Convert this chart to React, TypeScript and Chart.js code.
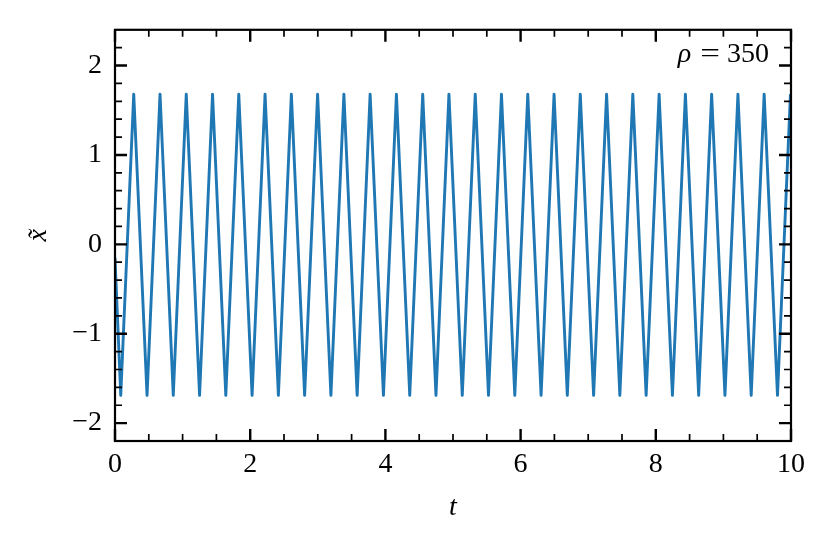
import React, { useEffect, useRef } from 'react';
import { Chart, registerables } from 'chart.js';

Chart.register(...registerables);

// Start of the trajectory
const startT = [0];
const startX = [-0.15];

// Troughs (time, value)
const troughT = [0.085, 0.474, 0.862, 1.251, 1.639, 2.028, 2.417, 2.805, 3.194, 3.582, 3.971, 4.36, 4.748, 5.137, 5.525, 5.914, 6.303, 6.691, 7.08, 7.468, 7.857, 8.246, 8.634, 9.023, 9.411, 9.8];
const troughX = [-1.69, -1.69, -1.69, -1.69, -1.69, -1.69, -1.69, -1.69, -1.69, -1.69, -1.69, -1.69, -1.69, -1.69, -1.69, -1.69, -1.69, -1.69, -1.69, -1.69, -1.69, -1.69, -1.69, -1.69, -1.69, -1.69];

// Peaks (time, value)
const peakT = [0.277, 0.666, 1.054, 1.443, 1.831, 2.22, 2.609, 2.997, 3.386, 3.774, 4.163, 4.552, 4.94, 5.329, 5.717, 6.106, 6.495, 6.883, 7.272, 7.66, 8.049, 8.438, 8.826, 9.215, 9.603, 9.992];
const peakX = [1.68, 1.68, 1.68, 1.68, 1.68, 1.68, 1.68, 1.68, 1.68, 1.68, 1.68, 1.68, 1.68, 1.68, 1.68, 1.68, 1.68, 1.68, 1.68, 1.68, 1.68, 1.68, 1.68, 1.68, 1.68, 1.68];

// Axes
const xMajorTicks = [0, 2, 4, 6, 8, 10];
const xMinorTicks = [0.5, 1, 1.5, 2.5, 3, 3.5, 4.5, 5, 5.5, 6.5, 7, 7.5, 8.5, 9, 9.5];
const yMajorTicks = [-2, -1, 0, 1, 2];
const yMinorTicks = [-2.2, -1.8, -1.6, -1.4, -1.2, -0.8, -0.6, -0.4, -0.2, 0.2, 0.4, 0.6, 0.8, 1.2, 1.4, 1.6, 1.8, 2.2];
const xRange = [0, 10];
const yRange = [-2.2, 2.4];
const annotationParts = ['ρ', '=', '350'];

const SERIF = '"Liberation Serif", "DejaVu Serif", serif';
const TICK_SIZE = 28;

function buildPoints() {
  const pts: { x: number; y: number }[] = [];
  startT.forEach((t, i) => pts.push({ x: t, y: startX[i] }));
  for (let i = 0; i < troughT.length; i++) {
    pts.push({ x: troughT[i], y: troughX[i] });
    if (i < peakT.length) pts.push({ x: peakT[i], y: peakX[i] });
  }
  return pts;
}

const frameTicks = {
  id: 'frameTicks',
  afterDraw(chart: any) {
    const { ctx, chartArea } = chart;
    const { left, right, top, bottom } = chartArea;
    const xs = chart.scales.x;
    const ys = chart.scales.y;
    ctx.save();
    ctx.strokeStyle = '#000';
    ctx.lineCap = 'butt';
    const drawX = (vals: number[], len: number, w: number) => {
      ctx.lineWidth = w;
      ctx.beginPath();
      vals.forEach((v) => {
        const p = xs.getPixelForValue(v);
        ctx.moveTo(p, bottom);
        ctx.lineTo(p, bottom - len);
        ctx.moveTo(p, top);
        ctx.lineTo(p, top + len);
      });
      ctx.stroke();
    };
    const drawY = (vals: number[], len: number, w: number) => {
      ctx.lineWidth = w;
      ctx.beginPath();
      vals.forEach((v) => {
        const p = ys.getPixelForValue(v);
        ctx.moveTo(left, p);
        ctx.lineTo(left + len, p);
        ctx.moveTo(right, p);
        ctx.lineTo(right - len, p);
      });
      ctx.stroke();
    };
    drawX(xMajorTicks, 12, 2.4);
    drawX(xMinorTicks, 7, 1.7);
    drawY(yMajorTicks, 12, 2.4);
    drawY(yMinorTicks, 7, 1.7);
    ctx.lineWidth = 2.2;
    ctx.strokeRect(left, top, right - left, bottom - top);

    // annotation: ρ = 350
    ctx.fillStyle = '#000';
    ctx.textBaseline = 'alphabetic';
    ctx.textAlign = 'left';
    const baseY = top + 32;
    const endX = right - 22;
    ctx.font = `${TICK_SIZE}px ${SERIF}`;
    const wNum = ctx.measureText(annotationParts[2]).width;
    const wEq = ctx.measureText(annotationParts[1]).width * 1.25;
    ctx.font = `italic ${TICK_SIZE}px ${SERIF}`;
    const wSym = ctx.measureText(annotationParts[0]).width;
    const gap1 = 9;
    const gap2 = 7;
    const xNum = endX - wNum;
    const xEq = xNum - gap2 - wEq;
    const xSym = xEq - gap1 - wSym;
    ctx.fillText(annotationParts[0], xSym, baseY);
    ctx.font = `${TICK_SIZE}px ${SERIF}`;
    ctx.save();
    ctx.translate(xEq, baseY);
    ctx.scale(1.25, 1);
    ctx.fillText(annotationParts[1], 0, 0);
    ctx.restore();
    ctx.fillText(annotationParts[2], xNum, baseY);
    ctx.restore();
  },
};

const fmt = (v: number) => (v < 0 ? '\u2212' + Math.abs(v) : String(v));

export default function App() {
  const ref = useRef<HTMLCanvasElement | null>(null);
  useEffect(() => {
    if (!ref.current) return;
    const chart = new Chart(ref.current, {
      type: 'line',
      data: {
        datasets: [
          {
            data: buildPoints(),
            borderColor: '#1f77b4',
            borderWidth: 2.9,
            pointRadius: 0,
            tension: 0,
            fill: false,
            borderJoinStyle: 'round',
          },
        ],
      },
      options: {
        responsive: false,
        animation: false,
        events: [],
        layout: { padding: { top: 26, right: 40, left: 0, bottom: 0 } },
        plugins: { legend: { display: false }, tooltip: { enabled: false } },
        scales: {
          x: {
            type: 'linear',
            min: xRange[0],
            max: xRange[1],
            grid: { display: false, drawTicks: false },
            border: { display: false },
            afterBuildTicks: (s: any) => {
              s.ticks = xMajorTicks.map((v) => ({ value: v }));
            },
            afterFit: (s: any) => {
              s.height = 104;
            },
            ticks: {
              padding: 7,
              color: '#000',
              maxRotation: 0,
              autoSkip: false,
              font: { family: SERIF, size: TICK_SIZE },
              callback: (v: any) => fmt(Number(v)),
            },
            title: {
              display: true,
              text: 't',
              color: '#000',
              font: { family: SERIF, size: TICK_SIZE, style: 'italic' },
              padding: { top: 0, bottom: 21 },
            },
          },
          y: {
            type: 'linear',
            min: yRange[0],
            max: yRange[1],
            grid: { display: false, drawTicks: false },
            border: { display: false },
            afterBuildTicks: (s: any) => {
              s.ticks = yMajorTicks.map((v) => ({ value: v }));
            },
            afterFit: (s: any) => {
              s.width = 115;
            },
            ticks: {
              padding: 13,
              color: '#000',
              autoSkip: false,
              font: { family: SERIF, size: TICK_SIZE },
              callback: (v: any) => fmt(Number(v)),
            },
            title: {
              display: true,
              text: 'x\u0303',
              color: '#000',
              font: { family: SERIF, size: TICK_SIZE, style: 'italic' },
              padding: { top: 22, bottom: 0 },
            },
          },
        },
      },
      plugins: [frameTicks],
    } as any);
    return () => chart.destroy();
  }, []);
  return (
    <div style={{ position: 'fixed', left: 0, top: 0, width: 831, height: 545, background: '#fff' }}>
      <canvas ref={ref} width={831} height={545} style={{ display: 'block' }} />
    </div>
  );
}
